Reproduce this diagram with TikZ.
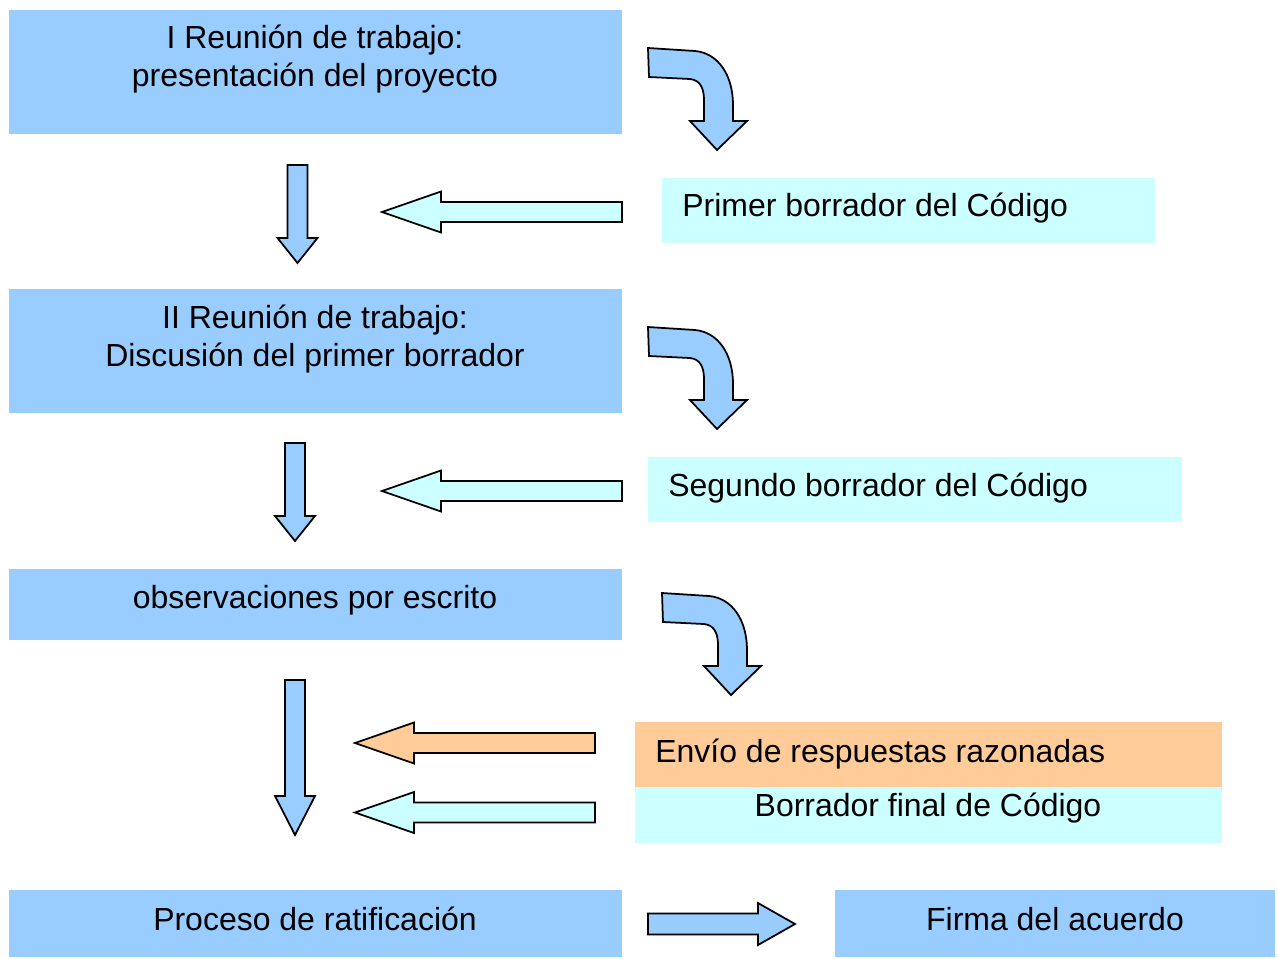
\documentclass[tikz,border=0pt]{standalone}
\usepackage{fontspec}
\setmainfont{Liberation Sans}
\usetikzlibrary{positioning}
\definecolor{stageblue}{HTML}{99CCFF}
\definecolor{draftcyan}{HTML}{CCFFFF}
\definecolor{replyorange}{HTML}{FFCC99}

\begin{document}
\begin{tikzpicture}[x=0.02cm, y=-0.02cm,
        stage/.style={rectangle, inner sep=0pt, fill=stageblue, minimum width=12.26cm},
        draft/.style={rectangle, inner sep=0pt, fill=draftcyan, minimum height=1.3cm},
        txt/.style={inner sep=0pt, anchor=base, align=center, font=\fontsize{18.2}{21.2}\selectfont},
        blockarrow/.style={draw=black, line width=1pt, line join=miter},
        pics/turn/.style={code={
            \draw[blockarrow, fill=stageblue] (648,48) -- (695,51) .. controls (718,53) and (733,75) .. (733,105)
                -- (733,121) -- (747,121) -- (717,150) -- (690,121) -- (704,121) -- (704,100)
                .. controls (704,88) and (700,80) .. (690,79) -- (649,77) -- cycle;
        }}
    ]
    \useasboundingbox (0,0) rectangle (1278,958);

    % Working meetings (left column)
    \node[stage, minimum height=2.48cm] (reunion1) at (315.5,72) {};
    \node[txt] (reunion1 text) at (315,86) {I Reunión de trabajo:\\presentación del proyecto};

    \node[stage, minimum height=2.48cm] (reunion2) at (315.5,351) {};
    \node[txt] (reunion2 text) at (315,366) {II Reunión de trabajo:\\Discusión del primer borrador};

    \node[stage, minimum height=1.42cm] (obs) at (315.5,604.5) {};
    \node[txt] (obs text) at (315,608) {observaciones por escrito};

    \node[stage, minimum height=1.34cm] (ratif) at (315.5,923.5) {};
    \node[txt] (ratif text) at (315,930) {Proceso de ratificación};

    % Drafts (right column)
    \node[draft, minimum width=9.86cm] (draft1) at (908.5,210.5) {};
    \node[txt, anchor=base west] (draft1 text) at (682,216) {Primer borrador del Código};

    \node[draft, minimum width=10.68cm] (draft2) at (915,489.5) {};
    \node[txt, anchor=base west] (draft2 text) at (668,496) {Segundo borrador del Código};

    \node[draft, fill=replyorange, minimum width=11.74cm] (reply) at (928.5,754.5) {};
    \node[txt, anchor=base west] (reply text) at (655,762) {Envío de respuestas razonadas};

    \node[draft, minimum width=11.74cm, minimum height=1.12cm] (final) at (928.5,815) {};
    \node[txt] (final text) at (928,816) {Borrador final de Código};

    \node[stage, minimum width=8.8cm, minimum height=1.34cm] (firma) at (1055,923.5) {};
    \node[txt] (firma text) at (1055,930) {Firma del acuerdo};

    % Curved arrows
    \pic at (0,0) {turn};
    \pic at (0,279) {turn};
    \pic at (14,545) {turn};

    % Down arrows
    \foreach \cx/\ya/\yb/\yc in {297.5/165/238/263, 295/443/516/541, 295/680/796/835}
        \draw[blockarrow, fill=stageblue] ({\cx-10},\ya) -- ({\cx+10},\ya) -- ({\cx+10},\yb) -- ({\cx+20},\yb)
            -- (\cx,\yc) -- ({\cx-20},\yb) -- ({\cx-10},\yb) -- cycle;

    % Left arrows
    \foreach \xa/\xb/\cy/\col in {622/382/212/draftcyan, 622/382/491/draftcyan, 595/355/743/replyorange, 595/355/812.5/draftcyan}
        \draw[blockarrow, fill=\col] (\xa,{\cy-10}) -- (\xa,{\cy+10}) -- ({\xb+59},{\cy+10}) -- ({\xb+59},{\cy+20.5})
            -- (\xb,\cy) -- ({\xb+59},{\cy-20.5}) -- ({\xb+59},{\cy-10}) -- cycle;

    % Right arrow
    \draw[blockarrow, fill=stageblue] (648,913.5) -- (758,913.5) -- (758,903) -- (795,924) -- (758,945)
        -- (758,934.5) -- (648,934.5) -- cycle;

\end{tikzpicture}
\end{document}
